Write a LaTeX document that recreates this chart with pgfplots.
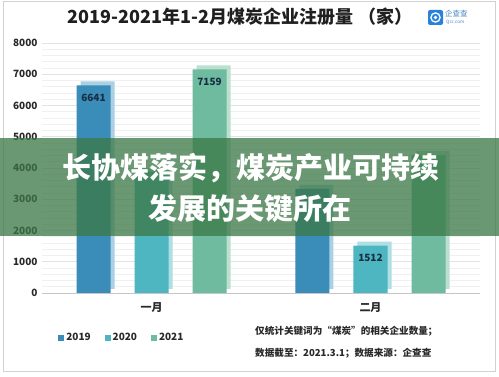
\documentclass[border=0pt]{standalone}
\usepackage{pgfplots}
\pgfplotsset{compat=1.18}
\usepackage{fontspec}
\setmainfont{Noto Sans CJK SC}
\definecolor{c19}{RGB}{58,141,184}
\definecolor{c20}{RGB}{77,182,193}
\definecolor{c21}{RGB}{110,187,160}
\definecolor{s19}{RGB}{170,208,228}
\definecolor{s20}{RGB}{175,222,228}
\definecolor{s21}{RGB}{188,224,208}
\definecolor{band}{RGB}{60,120,70}
\definecolor{txt}{RGB}{40,40,40}
\definecolor{lbl}{RGB}{25,45,65}
\definecolor{logo}{RGB}{40,130,220}
\begin{document}
\begin{tikzpicture}[x=1pt,y=1pt]
\useasboundingbox (0,0) rectangle (499,377);
\fill[white] (0,0) rectangle (499,377);
\draw[gray!35, line width=0.8pt] (3,6) rectangle (495,376);
\begin{axis}[
  at={(42pt,84pt)}, anchor=south west,
  scale only axis, width=438pt, height=250pt,
  xmin=-0.5, xmax=1.5, ymin=0, ymax=8000,
  axis lines*=left,
  y axis line style={draw=none},
  x axis line style={draw=gray!45, line width=0.8pt},
  tick style={draw=none},
  xtick={0,1}, xticklabels={一月,二月},
  ytick={0,1000,...,8000},
  minor y tick num=4,
  ymajorgrids, yminorgrids,
  major grid style={gray!22, line width=0.6pt},
  minor grid style={gray!12, line width=0.5pt},
  /pgf/number format/assume math mode=true,
  /pgf/number format/1000 sep={},
  yticklabel style={font=\fontsize{10}{12}\selectfont\bfseries, text=txt, xshift=-1pt},
  xticklabel style={font=\fontsize{11}{13}\selectfont\bfseries, text=txt, yshift=-6pt},
  legend style={at={(0.03,-0.18)}, anchor=west, draw=none, fill=none,
    font=\fontsize{10}{12}\selectfont\bfseries, text=txt,
    legend columns=3, /tikz/every even column/.append style={column sep=12pt}},
  legend image code/.code={\fill[#1] (0pt,-3pt) rectangle (6pt,3pt);},
  clip=false,
]
% shadows
\addplot[ybar, bar width=34pt, bar shift=-54pt, fill=s19, draw=none, yshift=4pt, forget plot] coordinates {(0,6641) (1,3330)};
\addplot[ybar, bar width=34pt, bar shift=4pt, fill=s20, draw=none, yshift=4pt, forget plot] coordinates {(0,3880) (1,1512)};
\addplot[ybar, bar width=34pt, bar shift=62pt, fill=s21, draw=none, yshift=4pt, forget plot] coordinates {(0,7159) (1,4420)};
% bars
\addplot[ybar, bar width=34pt, bar shift=-58pt, fill=c19, draw=none,
  point meta=explicit symbolic, nodes near coords,
  every node near coord/.append style={anchor=north, xshift=-58pt, yshift=-5pt, text=lbl, font=\fontsize{10}{12}\selectfont\bfseries}]
  coordinates {(0,6641) [6641] (1,3330) []};
\addlegendentry{2019}
\addplot[ybar, bar width=34pt, bar shift=0pt, fill=c20, draw=none,
  point meta=explicit symbolic, nodes near coords,
  every node near coord/.append style={anchor=north, yshift=-5pt, text=lbl, font=\fontsize{10}{12}\selectfont\bfseries}]
  coordinates {(0,3880) [] (1,1512) [1512]};
\addlegendentry{2020}
\addplot[ybar, bar width=34pt, bar shift=58pt, fill=c21, draw=none,
  point meta=explicit symbolic, nodes near coords,
  every node near coord/.append style={anchor=north, xshift=58pt, yshift=-5pt, text=lbl, font=\fontsize{10}{12}\selectfont\bfseries}]
  coordinates {(0,7159) [7159] (1,4420) []};
\addlegendentry{2021}
\end{axis}
% title
\node[font=\fontsize{18}{20}\selectfont\bfseries, text=black!88] at (240,360) {2019-2021年1-2月煤炭企业注册量\hspace{0.3em}（家）};
% logo
\fill[logo, rounded corners=2pt] (428,352) rectangle (443,367);
\draw[white, line width=1.3pt] (435.5,359.5) circle (4.6);
\fill[white] (435.5,359.5) circle (1.8);
\node[font=\fontsize{7.5}{8}\selectfont, text=logo!70!gray, anchor=west, inner sep=0] at (445,363.5) {企查查};
\node[font=\fontsize{4.5}{5}\selectfont, text=logo!70!gray, anchor=west, inner sep=0] at (446,355) {Qcc.com};
% notes
\node[font=\fontsize{9.6}{11}\selectfont\bfseries, text=txt, anchor=west, inner sep=0] at (255,46) {仅统计关键词为“煤炭”的相关企业数量；};
\node[font=\fontsize{9.6}{11}\selectfont\bfseries, text=txt, anchor=west, inner sep=0] at (255,24) {数据截至：2021.3.1；数据来源：企查查};
% band overlay
\fill[band, opacity=0.76] (0,141) rectangle (499,239);
\node[font=\fontsize{29}{31}\selectfont\bfseries, text=white] at (251,209) {长协煤落实，煤炭产业可持续};
\node[font=\fontsize{29}{31}\selectfont\bfseries, text=white] at (250,168) {发展的关键所在};
\end{tikzpicture}
\end{document}
